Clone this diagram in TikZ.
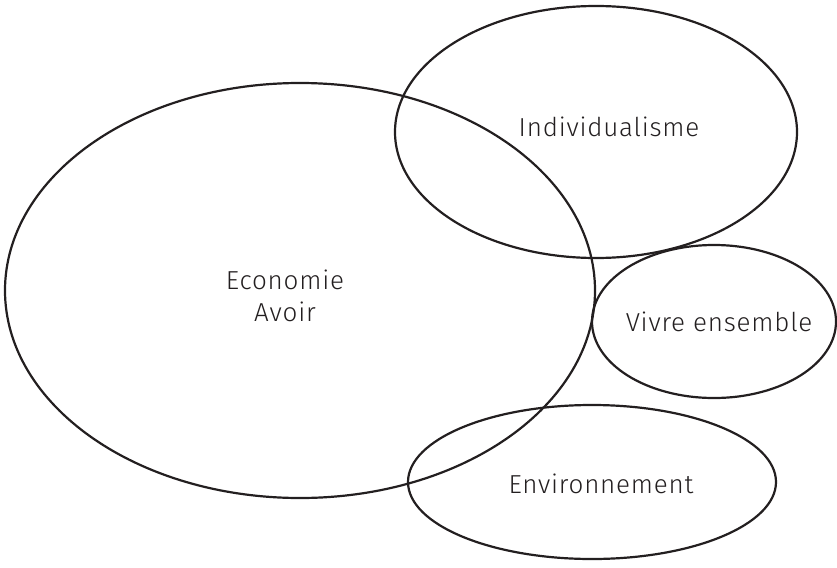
\documentclass[tikz,border=0pt]{standalone}
\usepackage{fontspec}
\setmainfont{Fira Sans Light}[LetterSpace=3]
\usepackage{tikz}
\usetikzlibrary{shapes.geometric,positioning}
\definecolor{vnline}{RGB}{35,31,32}

\begin{document}
\begin{tikzpicture}[
    x=1pt, y=-1pt,
    zone/.style={ellipse, draw=vnline, line width=2.2pt, inner sep=0pt},
    tag/.style={font=\fontsize{26}{32}\selectfont, text=vnline, align=center, inner sep=0pt}
]
\useasboundingbox (0,0) rectangle (837,567);

% Main zone
\node (economie) [zone, minimum width=590pt, minimum height=415pt] at (300,290.5) {};
\node (economietxt) [tag] at ([xshift=-15pt, yshift=-5pt]economie.center) {Economie\\Avoir};

% Top right
\node (individu) [zone, minimum width=402pt, minimum height=252pt] at (596,132) {};
\node (individutxt) [tag] at ([xshift=13pt, yshift=5pt]individu.center) {Individualisme};

% Right
\node (vivre) [zone, minimum width=244pt, minimum height=153pt] at (714,321.5) {};
\node (vivretxt) [tag] at ([xshift=5pt]vivre.center) {Vivre ensemble};

% Bottom
\node (environ) [zone, minimum width=368pt, minimum height=154pt] at (592,482) {};
\node (environtxt) [tag] at ([xshift=9pt, yshift=-2pt]environ.center) {Environnement};
\end{tikzpicture}
\end{document}
